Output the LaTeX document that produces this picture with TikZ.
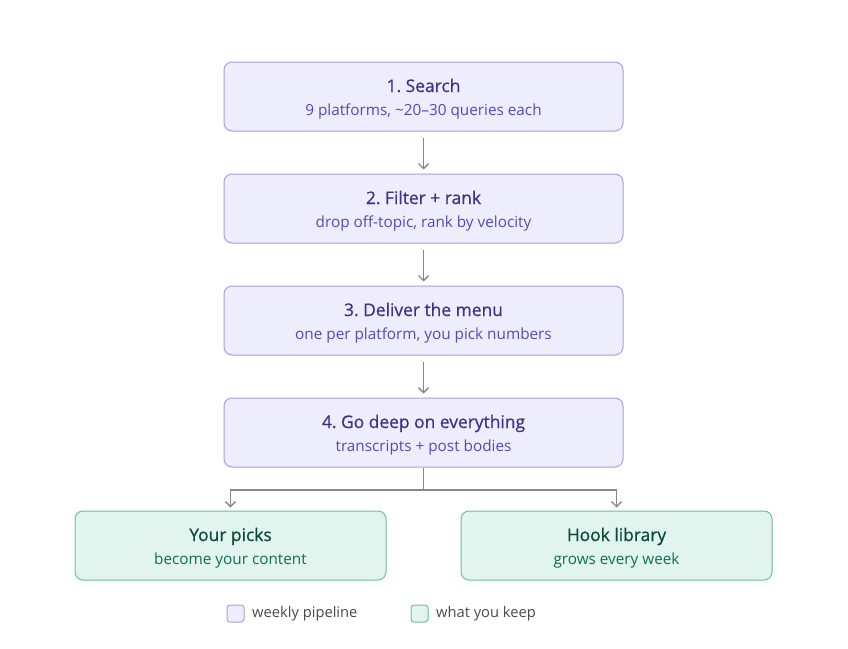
\documentclass[tikz,border=0pt]{standalone}
\usepackage{fontspec}
\setmainfont{Open Sans}
\newfontfamily\titlefont[FakeBold=0.7]{Open Sans}
\frenchspacing
\usetikzlibrary{arrows.meta}
\definecolor{pfill}{HTML}{EEEDFE}
\definecolor{pdraw}{HTML}{A79EEA}
\definecolor{ptitle}{HTML}{3C3489}
\definecolor{psub}{HTML}{534AB7}
\definecolor{gfill}{HTML}{E1F5EE}
\definecolor{gdraw}{HTML}{6FBF9C}
\definecolor{gtitle}{HTML}{0B4A3B}
\definecolor{gsub}{HTML}{0F6E56}
\definecolor{arrc}{HTML}{888780}
\definecolor{legtext}{HTML}{4A4A48}
\newcommand{\ptxt}[2]{\rule[-5pt]{0pt}{24pt}{\titlefont\fontsize{17.4}{23}\selectfont\color{ptitle}#1}\\{\color{psub}#2}\rule[-5pt]{0pt}{16pt}}
\newcommand{\gtxt}[2]{\rule[-5pt]{0pt}{24pt}{\titlefont\fontsize{17.4}{23}\selectfont\color{gtitle}#1}\\{\color{gsub}#2}\rule[-5pt]{0pt}{16pt}}
\tikzset{
  boxfont/.style={font=\fontsize{15.3}{23}\selectfont},
  pbox/.style={boxfont, draw=pdraw, fill=pfill, line width=1pt, rounded corners=8pt, minimum width=399pt, minimum height=69pt, align=center, inner sep=0pt},
  gbox/.style={boxfont, draw=gdraw, fill=gfill, line width=1pt, rounded corners=8pt, minimum width=311pt, minimum height=69pt, align=center, inner sep=0pt},
  arr/.style={draw=arrc, line width=1.4pt, -{Straight Barb[length=5pt,width=10pt,line width=1.4pt]}},
  conn/.style={draw=arrc, line width=1.4pt},
  pleg/.style={draw=pdraw, fill=pfill, line width=1pt, rounded corners=3pt, minimum width=17pt, minimum height=17pt, inner sep=0pt},
  gleg/.style={draw=gdraw, fill=gfill, line width=1pt, rounded corners=3pt, minimum width=17pt, minimum height=17pt, inner sep=0pt},
  legt/.style={anchor=west, inner sep=0pt, text=legtext, font=\fontsize{14.7}{15}\selectfont}
}
\begin{document}
\begin{tikzpicture}[x=1pt,y=-1pt]
\useasboundingbox[fill=white] (0,0) rectangle (848,648);
\node[pbox] (s1) at (423.5,96.5) {\ptxt{1. Search}{9 platforms, \textasciitilde 20–30 queries each}};
\node[pbox] (s2) at (423.5,208.5) {\ptxt{2. Filter + rank}{drop off-topic, rank by velocity}};
\node[pbox] (s3) at (423.5,320.5) {\ptxt{3. Deliver the menu}{one per platform, you pick numbers}};
\node[pbox] (s4) at (423.5,432.5) {\ptxt{4. Go deep on everything}{transcripts + post bodies}};
\node[gbox] (g1) at (230.5,545.5) {\gtxt{Your picks}{become your content}};
\node[gbox] (g2) at (616.5,545.5) {\gtxt{Hook library}{grows every week}};
\draw[arr] ([yshift=-6pt]s1.south) -- ([yshift=4pt]s2.north);
\draw[arr] ([yshift=-6pt]s2.south) -- ([yshift=4pt]s3.north);
\draw[arr] ([yshift=-6pt]s3.south) -- ([yshift=4pt]s4.north);
\coordinate (br) at (423.5,490);
\draw[conn] (s4.south) -- (br);
\draw[arr] (br) -| ([yshift=3pt]g1.north);
\draw[arr] (br) -| ([yshift=3pt]g2.north);
\node[pleg] (l1) at (235.5,613.5) {};
\node[legt] (l1t) at (252,613.5) {weekly pipeline};
\node[gleg] (l2) at (419.5,613.5) {};
\node[legt] (l2t) at (436,613.5) {what you keep};
\end{tikzpicture}
\end{document}
